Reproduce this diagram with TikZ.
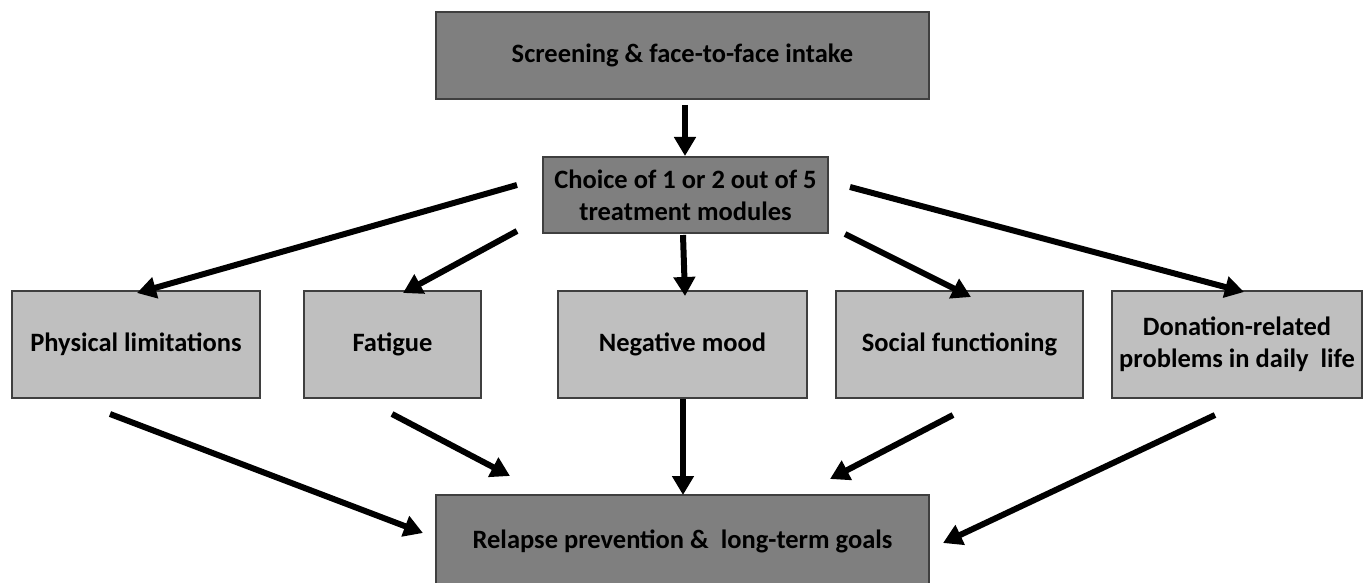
\documentclass[tikz,border=0pt]{standalone}
\usepackage{fontspec}
\setmainfont{Carlito}
\usetikzlibrary{arrows.meta}
\definecolor{darkbox}{HTML}{7F7F7F}
\definecolor{lightbox}{HTML}{BFBFBF}
\definecolor{boxline}{HTML}{3F3F3F}
\tikzset{
  darkstep/.style={draw=boxline,line width=1.2pt,fill=darkbox,inner sep=0pt,align=center,font=\bfseries\fontsize{26.5}{32}\selectfont},
  lightstep/.style={draw=boxline,line width=1.2pt,fill=lightbox,inner sep=0pt,align=center,minimum height=107pt,font=\bfseries\fontsize{26.5}{32}\selectfont},
  conn/.style={line width=6pt,-{Triangle[length=19pt,width=21pt]}},
}
\begin{document}
\begin{tikzpicture}[x=1pt,y=-1pt]
\useasboundingbox (0,0) rectangle (1363,583);
\node[darkstep,minimum width=493pt,minimum height=87pt] (intake) at (682.5,55.5) {Screening \& face-to-face intake};
\node[darkstep,minimum width=285pt,minimum height=76pt] (choice) at (685.5,195) {Choice of 1 or 2 out of 5\\treatment modules};
\node[lightstep,minimum width=248pt] (phys) at (136,344.5) {Physical limitations};
\node[lightstep,minimum width=177pt] (fat) at (392.5,344.5) {Fatigue};
\node[lightstep,minimum width=249pt] (mood) at (682.5,344.5) {Negative mood};
\node[lightstep,minimum width=247pt] (soc) at (959.5,344.5) {Social functioning};
\node[lightstep,minimum width=250pt] (don) at (1237,344.5) {Donation-related\\problems in daily\ \ life};
\node[darkstep,minimum width=493pt,minimum height=92pt] (relapse) at (682.5,541) {Relapse prevention \&\ \ long-term goals};
% connector end points
\coordinate (a0) at (685,105); \coordinate (a1) at (685,156);
\coordinate (b0) at (517,185); \coordinate (b1) at (137,293);
\coordinate (c0) at (517,231); \coordinate (c1) at (403,293);
\coordinate (d0) at (683,235); \coordinate (d1) at (685,296);
\coordinate (e0) at (845,234); \coordinate (e1) at (971,297);
\coordinate (f0) at (850,187); \coordinate (f1) at (1244,292);
\coordinate (g0) at (110,414); \coordinate (g1) at (423,533);
\coordinate (h0) at (392,414); \coordinate (h1) at (510,476);
\coordinate (i0) at (683,399); \coordinate (i1) at (683,495);
\coordinate (j0) at (953,415); \coordinate (j1) at (830,479);
\coordinate (k0) at (1215,415); \coordinate (k1) at (943,543);
\draw[conn] (a0) -- (a1);
\draw[conn] (b0) -- (b1);
\draw[conn] (c0) -- (c1);
\draw[conn] (d0) -- (d1);
\draw[conn] (e0) -- (e1);
\draw[conn] (f0) -- (f1);
\draw[conn] (g0) -- (g1);
\draw[conn] (h0) -- (h1);
\draw[conn] (i0) -- (i1);
\draw[conn] (j0) -- (j1);
\draw[conn] (k0) -- (k1);
\end{tikzpicture}
\end{document}
